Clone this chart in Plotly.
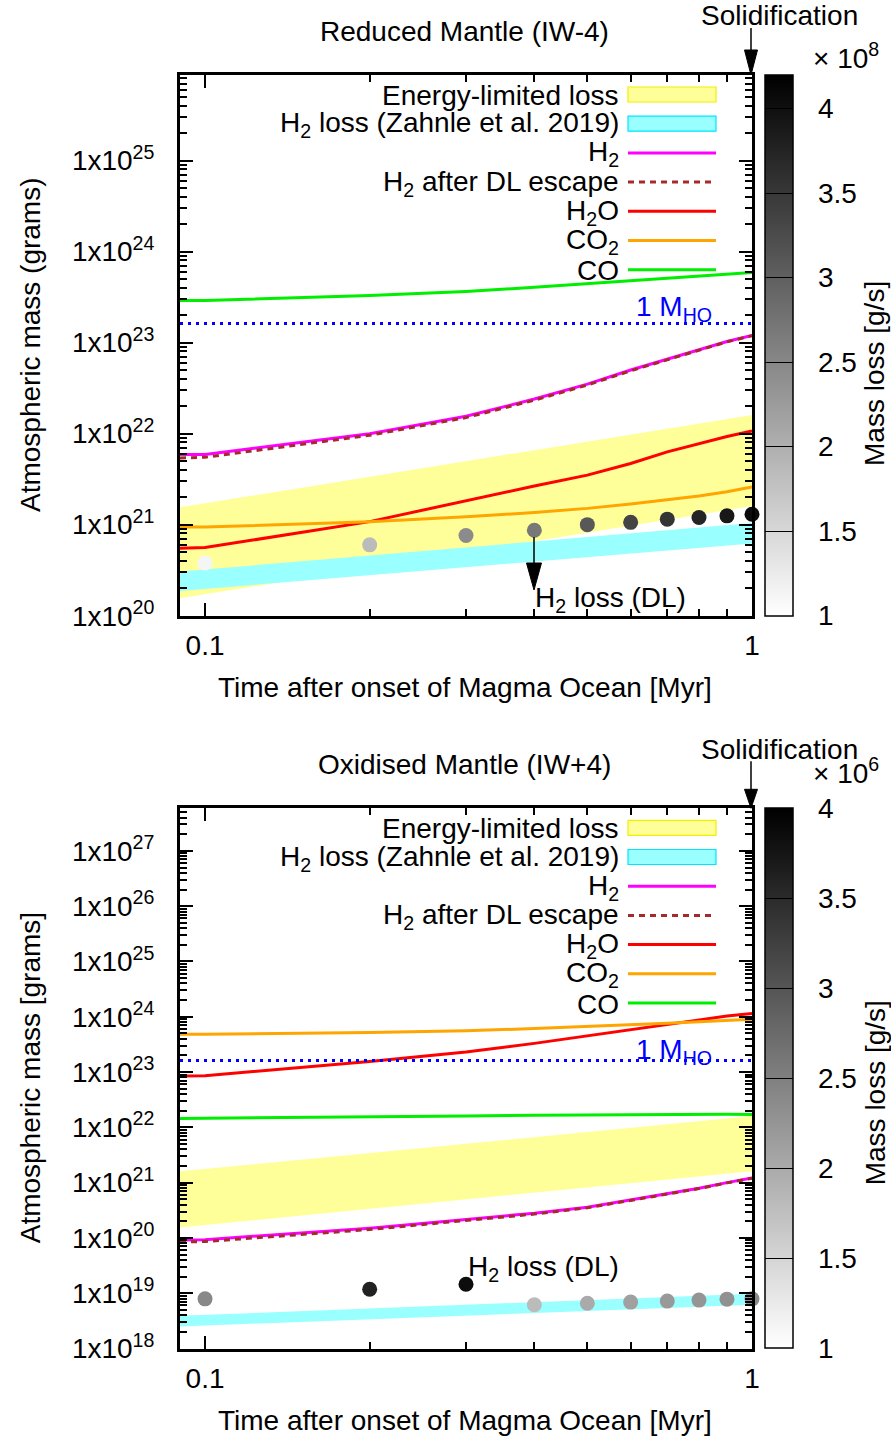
import numpy as np
import plotly.graph_objects as go

W, H = 891, 1440

# ---------------- data ----------------
T_LINE = [0.09, 0.1, 0.2, 0.3, 0.4, 0.5, 0.6, 0.7, 0.8, 0.9, 1.0]   # Myr
T_PTS = [0.1, 0.2, 0.3, 0.4, 0.5, 0.6, 0.7, 0.8, 0.9, 1.0]          # Myr
T_BAND = [0.09, 1.0]                                                # Myr

# Reduced mantle (IW-4), grams
RED_H2 = [5.9e21, 5.9e21, 1.0e22, 1.55e22, 2.4e22, 3.5e22, 5.0e22, 6.6e22, 8.4e22, 1.03e23, 1.2e23]
RED_H2_DL = [5.4e21, 5.5e21, 9.6e21, 1.5e22, 2.33e22, 3.42e22, 4.9e22, 6.5e22, 8.3e22, 1.02e23, 1.19e23]
RED_H2O = [5.5e20, 5.6e20, 1.08e21, 1.84e21, 2.66e21, 3.5e21, 4.7e21, 6.3e21, 7.8e21, 9.3e21, 1.07e22]
RED_CO2 = [9.4e20, 9.4e20, 1.08e21, 1.22e21, 1.36e21, 1.51e21, 1.69e21, 1.87e21, 2.07e21, 2.3e21, 2.6e21]
RED_CO = [2.9e23, 2.9e23, 3.3e23, 3.65e23, 4.05e23, 4.45e23, 4.8e23, 5.15e23, 5.45e23, 5.7e23, 5.9e23]
RED_EL_LOW = [1.55e20, 1.6e21]
RED_EL_HIGH = [1.55e21, 1.6e22]
RED_ZA_LOW = [1.87e20, 6.2e20]
RED_ZA_HIGH = [3.05e20, 1.04e21]
RED_DL_LOSS = [3.8e20, 6.0e20, 7.6e20, 8.7e20, 1.0e21, 1.06e21, 1.15e21, 1.2e21, 1.25e21, 1.3e21]
RED_MASS_LOSS = [1.12, 1.85, 2.45, 2.7, 3.1, 3.35, 3.55, 3.75, 3.9, 4.05]   # x 1e8 g/s

# Oxidised mantle (IW+4), grams
OX_H2 = [9.2e19, 9.3e19, 1.5e20, 2.2e20, 2.8e20, 3.6e20, 4.9e20, 6.3e20, 7.9e20, 1.0e21, 1.22e21]
OX_H2_DL = [8.4e19, 8.6e19, 1.42e20, 2.1e20, 2.7e20, 3.5e20, 4.8e20, 6.2e20, 7.8e20, 9.9e20, 1.2e21]
OX_H2O = [8.5e22, 8.6e22, 1.55e23, 2.3e23, 3.3e23, 4.5e23, 5.9e23, 7.3e23, 8.7e23, 1.03e24, 1.15e24]
OX_CO2 = [4.8e23, 4.8e23, 5.2e23, 5.6e23, 6.1e23, 6.6e23, 7.1e23, 7.6e23, 8.1e23, 8.6e23, 9.0e23]
OX_CO = [1.45e22, 1.46e22, 1.55e22, 1.6e22, 1.65e22, 1.68e22, 1.7e22, 1.72e22, 1.72e22, 1.72e22, 1.7e22]
OX_EL_LOW = [1.55e20, 1.6e21]
OX_EL_HIGH = [1.6e21, 1.6e22]
OX_ZA_LOW = [2.5e18, 6.2e18]
OX_ZA_HIGH = [3.9e18, 9.8e18]
OX_DL_LOSS = [7.9e18, 1.18e19, 1.45e19, 6.2e18, 6.6e18, 6.9e18, 7.2e18, 7.5e18, 7.8e18, 7.9e18]
OX_MASS_LOSS = [2.4, 3.6, 3.85, 1.8, 2.0, 2.12, 2.2, 2.25, 2.3, 2.37]      # x 1e6 g/s

M_HO = 1.62e23   # one Earth ocean of hydrogen, grams

X_TICKS = [0.1, 1]
X_TICK_TEXT = ["0.1", "1"]
X_MINOR = [0.2, 0.3, 0.4, 0.5, 0.6, 0.7, 0.8, 0.9]
RED_Y_EXP = [20, 21, 22, 23, 24, 25]
OX_Y_EXP = [18, 19, 20, 21, 22, 23, 24, 25, 26, 27]
CB_TICKS = [1, 1.5, 2, 2.5, 3, 3.5, 4]
CB_TICK_TEXT = ["1", "1.5", "2", "2.5", "3", "3.5", "4"]

LEGEND_LABELS = ["Energy-limited loss", "H<sub>2</sub> loss (Zahnle et al. 2019)", "H<sub>2</sub>",
                 "H<sub>2</sub> after DL escape", "H<sub>2</sub>O", "CO<sub>2</sub>", "CO"]

# ---------------- styles ----------------
FONT = "Liberation Sans, Arial, Helvetica, sans-serif"
FS = 28
C_EL_FILL, C_EL_LINE = "#ffff99", "#f0f000"
C_ZA_FILL, C_ZA_LINE = "#99ffff", "#00e5ff"
C_H2, C_DL, C_H2O, C_CO2, C_CO, C_MHO = "#ff00ff", "#a52a2a", "#ff0000", "#ffa500", "#00ee00", "#0000ff"
LW = 3
DL_DASH = "6px,5px"
GRAY = [[0, "#ffffff"], [1, "#000000"]]

# panel pixel geometry (figure is 891 x 1440, no margins)
PX_L, PX_R = 180, 752
PANELS = [dict(top=75, bot=615.7, yr=[20, 25.94], cmax=4.2, cbexp="8"),
          dict(top=808.3, bot=1348.5, yr=[18, 27.77], cmax=4.0, cbexp="6")]
CB_L, CB_R = 765, 793


def fx(p):
    return p / W


def fy(p):
    return 1 - p / H


def txt(text, x, y, xanchor="center", yanchor="middle", color="black", angle=0):
    return dict(text=text, xref="paper", yref="paper", x=fx(x), y=fy(y), xanchor=xanchor,
                yanchor=yanchor, textangle=angle, showarrow=False,
                font=dict(size=FS, color=color, family=FONT))


fig = go.Figure()

datasets = [
    dict(h2=RED_H2, dl=RED_H2_DL, h2o=RED_H2O, co2=RED_CO2, co=RED_CO, ell=RED_EL_LOW, elh=RED_EL_HIGH,
         zl=RED_ZA_LOW, zh=RED_ZA_HIGH, pts=RED_DL_LOSS, ml=RED_MASS_LOSS),
    dict(h2=OX_H2, dl=OX_H2_DL, h2o=OX_H2O, co2=OX_CO2, co=OX_CO, ell=OX_EL_LOW, elh=OX_EL_HIGH,
         zl=OX_ZA_LOW, zh=OX_ZA_HIGH, pts=OX_DL_LOSS, ml=OX_MASS_LOSS),
]

shapes = []
annotations = []

for i, (d, p) in enumerate(zip(datasets, PANELS)):
    xa = "x" if i == 0 else "x2"
    ya = "y" if i == 0 else "y2"
    common = dict(xaxis=xa, yaxis=ya, showlegend=False, hoverinfo="skip")
    # energy-limited band
    fig.add_trace(go.Scatter(x=T_BAND + T_BAND[::-1], y=d["ell"] + d["elh"][::-1], mode="lines",
                             fill="toself", fillcolor=C_EL_FILL, line=dict(width=0), **common))
    # Zahnle et al. band
    fig.add_trace(go.Scatter(x=T_BAND + T_BAND[::-1], y=d["zl"] + d["zh"][::-1], mode="lines",
                             fill="toself", fillcolor=C_ZA_FILL, line=dict(width=0), **common))
    fig.add_trace(go.Scatter(x=T_LINE, y=d["h2"], mode="lines", line=dict(color=C_H2, width=LW), **common))
    fig.add_trace(go.Scatter(x=T_LINE, y=d["dl"], mode="lines",
                             line=dict(color=C_DL, width=LW, dash=DL_DASH), **common))
    fig.add_trace(go.Scatter(x=T_LINE, y=d["h2o"], mode="lines", line=dict(color=C_H2O, width=LW), **common))
    fig.add_trace(go.Scatter(x=T_LINE, y=d["co2"], mode="lines", line=dict(color=C_CO2, width=LW), **common))
    fig.add_trace(go.Scatter(x=T_LINE, y=d["co"], mode="lines", line=dict(color=C_CO, width=LW), **common))
    fig.add_trace(go.Scatter(x=T_BAND, y=[M_HO, M_HO], mode="lines",
                             line=dict(color=C_MHO, width=3, dash="3px,5px"), **common))
    # DL loss points coloured by mass-loss rate
    ph = p["bot"] - p["top"]
    fig.add_trace(go.Scatter(
        x=T_PTS, y=d["pts"], mode="markers", cliponaxis=False,
        marker=dict(size=15, color=d["ml"], colorscale=GRAY, cmin=1, cmax=p["cmax"], line=dict(width=0),
                    showscale=True,
                    colorbar=dict(x=fx(CB_L), xanchor="left", y=fy(p["top"]), yanchor="top",
                                  lenmode="fraction", len=ph / H, thickness=CB_R - CB_L,
                                  thicknessmode="pixels", xpad=0, ypad=0,
                                  outlinewidth=1.5, outlinecolor="black",
                                  tickvals=CB_TICKS, ticks="inside", ticklen=CB_R - CB_L,
                                  tickwidth=1.2, tickcolor="black", showticklabels=False)),
        **common))

    # colorbar tick labels
    for v, s in zip(CB_TICKS, CB_TICK_TEXT):
        if v <= p["cmax"] + 1e-9:
            yy = p["bot"] - (v - 1) / (p["cmax"] - 1) * ph
            annotations.append(txt(s, 816, yy, xanchor="left"))

    # manual gnuplot-style legend (text right, sample left of frame edge)
    row0 = p["top"] + 19.5
    dy = 29.2
    for k, lab in enumerate(LEGEND_LABELS):
        yc = row0 + k * dy
        annotations.append(txt(lab, 621, yc + 1, xanchor="right"))
        if k in (0, 1):
            shapes.append(dict(type="rect", xref="paper", yref="paper", x0=fx(628), x1=fx(716),
                               y0=fy(yc - 7.5), y1=fy(yc + 7.5),
                               fillcolor=[C_EL_FILL, C_ZA_FILL][k],
                               line=dict(color=[C_EL_LINE, C_ZA_LINE][k], width=1.2)))
        else:
            col = [None, None, C_H2, C_DL, C_H2O, C_CO2, C_CO][k]
            dash = DL_DASH if k == 3 else "solid"
            shapes.append(dict(type="line", xref="paper", yref="paper", x0=fx(628), x1=fx(716),
                               y0=fy(yc), y1=fy(yc), line=dict(color=col, width=LW, dash=dash)))

    # 1 M_HO label
    annotations.append(txt("1 M<sub>HO</sub>", 714, p["top"] + (233 if i == 0 else 243),
                           xanchor="right", color=C_MHO))
    # Solidification arrow
    ax_x = PX_R - 1
    tip = p["top"]
    head = 25 if i == 0 else 19
    shapes.append(dict(type="line", xref="paper", yref="paper", x0=fx(ax_x), x1=fx(ax_x),
                       y0=fy(tip - 47), y1=fy(tip - head + 2), line=dict(color="black", width=1.5)))
    shapes.append(dict(type="path", xref="paper", yref="paper",
                       path="M %f %f L %f %f L %f %f Z" % (fx(ax_x - 6.5), fy(tip - head), fx(ax_x + 6.5),
                                                         fy(tip - head), fx(ax_x), fy(tip)),
                       fillcolor="black", line=dict(color="black", width=1)))
    annotations.append(txt("Solidification", 779, tip - 59))
    # colorbar exponent and title
    annotations.append(txt("\u00d7 10<sup>%s</sup>" % p["cbexp"], 846, tip - (19 if i == 0 else 37)))
    annotations.append(txt("Mass loss [g/s]", 875, tip + (299 if i == 0 else 285), angle=-90))
    # panel title, axis titles
    annotations.append(txt(["Reduced Mantle (IW-4)", "Oxidised Mantle (IW+4)"][i], 465, tip - 44))
    annotations.append(txt("Time after onset of Magma Ocean [Myr]", 465, p["bot"] + 72))
    annotations.append(txt(["Atmospheric mass (grams)", "Atmospheric mass [grams]"][i], 30, tip + 270,
                           angle=-90))
    # H2 loss (DL) label
    annotations.append(txt("H<sub>2</sub> loss (DL)", 533 if i == 0 else 466, 599 if i == 0 else 1268,
                           xanchor="left"))

# DL arrow in top panel (from the 0.4 Myr point downward)
ARX = 534
shapes.append(dict(type="line", xref="paper", yref="paper", x0=fx(ARX), x1=fx(ARX), y0=fy(537), y1=fy(566),
                   line=dict(color="black", width=1.5)))
shapes.append(dict(type="path", xref="paper", yref="paper",
                   path="M %f %f L %f %f L %f %f Z" % (fx(ARX - 7.5), fy(563), fx(ARX + 7.5), fy(563),
                                                     fx(ARX), fy(590)),
                   fillcolor="black", line=dict(color="black", width=1)))


def xaxis(p):
    return dict(type="log", range=[np.log10(0.09), 0], domain=[fx(PX_L), fx(PX_R)],
                showline=True, linewidth=3, linecolor="black", mirror="allticks",
                ticks="inside", ticklen=13, tickwidth=1.5, tickcolor="black",
                tickvals=X_TICKS, ticktext=X_TICK_TEXT, ticklabelstandoff=3,
                minor=dict(tickvals=X_MINOR, ticks="inside", ticklen=7, tickwidth=1.5, tickcolor="black"),
                showgrid=False, zeroline=False, automargin=False,
                tickfont=dict(size=FS, color="black", family=FONT))


def yaxis(p, exps):
    minor = [k * 10.0 ** e for e in range(exps[0] - 1, exps[-1] + 2) for k in range(2, 10)]
    return dict(type="log", range=p["yr"], domain=[fy(p["bot"]), fy(p["top"])],
                showline=True, linewidth=3, linecolor="black", mirror="allticks",
                ticks="inside", ticklen=13, tickwidth=1.5, tickcolor="black",
                tickvals=[10.0 ** e for e in exps], ticktext=["1x10<sup>%d</sup>" % e for e in exps],
                ticklabelstandoff=17,
                minor=dict(tickvals=minor, ticks="inside", ticklen=7, tickwidth=1.5, tickcolor="black"),
                showgrid=False, zeroline=False, automargin=False,
                tickfont=dict(size=FS, color="black", family=FONT))


fig.update_layout(
    template="none", width=W, height=H, margin=dict(l=0, r=0, t=0, b=0),
    paper_bgcolor="white", plot_bgcolor="white",
    font=dict(family=FONT, size=FS, color="black"),
    xaxis=dict(xaxis(PANELS[0]), anchor="y"),
    yaxis=dict(yaxis(PANELS[0], RED_Y_EXP), anchor="x"),
    xaxis2=dict(xaxis(PANELS[1]), anchor="y2"),
    yaxis2=dict(yaxis(PANELS[1], OX_Y_EXP), anchor="x2"),
    shapes=shapes, annotations=annotations, showlegend=False,
)

fig.write_html("out.html", include_plotlyjs=True, config={"displayModeBar": False},
               post_script="document.body.style.margin='0px';")
